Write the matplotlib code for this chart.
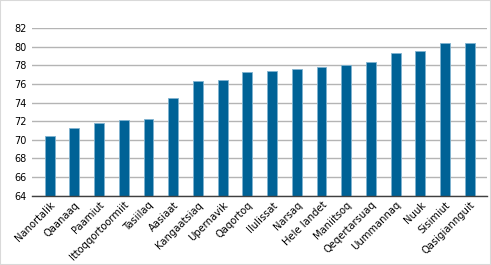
import matplotlib
matplotlib.use('Agg')
import matplotlib.pyplot as plt
from matplotlib.patches import Rectangle

towns = ['Nanortalik', 'Qaanaaq', 'Paamiut', 'Ittoqqortoormiit', 'Tasiilaq',
         'Aasiaat', 'Kangaatsiaq', 'Upernavik', 'Qaqortoq', 'Ilulissat',
         'Narsaq', 'Hele landet', 'Maniitsoq', 'Qeqertarsuaq', 'Uummannaq',
         'Nuuk', 'Sisimiut', 'Qasigiannguit']
values = [70.4, 71.3, 71.85, 72.1, 72.2, 74.5, 76.3, 76.45, 77.25, 77.4,
          77.55, 77.8, 78.05, 78.35, 79.3, 79.5, 80.35, 80.4]
yticks = list(range(64, 83, 2))

fig = plt.figure(figsize=(4.91, 2.65), dpi=100)
ax = fig.add_axes([0.066, 0.262, 0.926, 0.632])

x = range(len(towns))
ax.bar(x, values, width=0.4, color='#006296', edgecolor='#7fb3d0', linewidth=0.6,
       zorder=3)
ax.set_ylim(64, 82)
ax.set_xlim(-0.7, len(towns) - 0.3)
ax.set_yticks(yticks)
ax.set_yticklabels([str(t) for t in yticks], fontsize=7)
ax.set_xticks(list(x))
ax.set_xticklabels(towns, rotation=45, ha='right', rotation_mode='anchor', fontsize=7.2)
ax.tick_params(axis='y', length=0, pad=4)
ax.tick_params(axis='x', length=0, pad=3)
ax.yaxis.grid(True, color='#b4b4b4', linewidth=1.0, zorder=0)
for s in ['top', 'right', 'left']:
    ax.spines[s].set_visible(False)
ax.spines['bottom'].set_color('#404040')
ax.spines['bottom'].set_linewidth(1.0)
ax.spines['bottom'].set_zorder(4)

fig.patches.append(Rectangle((0, 0), 1, 1, transform=fig.transFigure, fill=False,
                             edgecolor='#d9d9d9', linewidth=1.5))

fig.savefig('out.png', dpi=100)
